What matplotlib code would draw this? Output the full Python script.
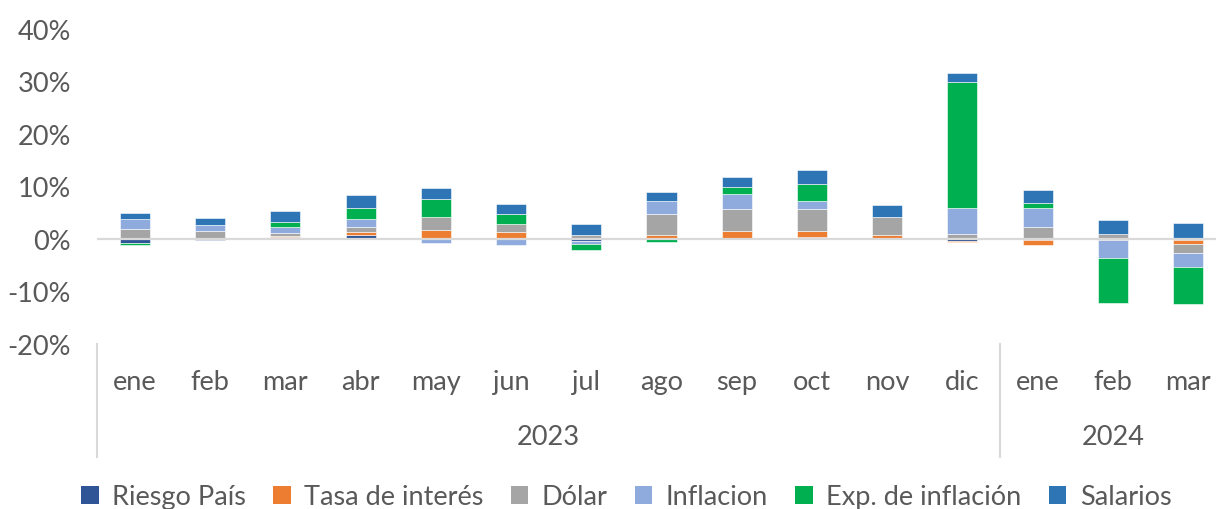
import numpy as np
import matplotlib.pyplot as plt
from matplotlib.patches import Patch
from matplotlib.lines import Line2D
import matplotlib.transforms as mtransforms
from matplotlib.ticker import PercentFormatter

# =============================================================================
# DATA (percent contribution per month)
# =============================================================================
months = ["ene", "feb", "mar", "abr", "may", "jun", "jul", "ago", "sep",
          "oct", "nov", "dic", "ene", "feb", "mar"]
years = ["2023", "2024"]
year_counts = [12, 3]

riesgo_pais = [-0.7, -0.2, 0.4, 0.8, 0.2, 0.0, -0.4, 0.0, 0.0, 0.3, 0.0, -0.3, -0.1, 0.0, -0.1]
tasa_interes = [0.0, 0.0, 0.2, 0.45, 1.6, 1.4, 0.0, 0.7, 1.5, 1.2, 0.8, -0.3, -1.0, -0.2, -0.9]
dolar = [2.0, 1.5, 0.5, 1.1, 2.4, 1.5, 0.8, 4.1, 4.2, 4.2, 3.4, 0.9, 2.2, 1.0, -1.6]
inflacion = [1.9, 1.2, 1.2, 1.5, -0.8, -1.2, -0.6, 2.4, 2.9, 1.6, 0.0, 5.0, 3.8, -3.4, -2.7]
exp_inflacion = [-0.4, 0.0, 1.0, 2.1, 3.5, 1.9, -1.0, -0.6, 1.3, 3.1, 0.0, 24.0, 0.8, -8.6, -7.1]
salarios = [1.0, 1.3, 2.1, 2.4, 2.0, 1.8, 2.0, 1.7, 2.0, 2.7, 2.2, 1.8, 2.5, 2.7, 3.1]

series_names = ["Riesgo País", "Tasa de interés", "Dólar", "Inflacion",
                "Exp. de inflación", "Salarios"]
series_values = [riesgo_pais, tasa_interes, dolar, inflacion, exp_inflacion, salarios]
colors = ["#2F5597", "#ED7D31", "#A5A5A5", "#8FAADC", "#00B050", "#2E75B6"]

TEXT = "#595959"
GRID = "#D9D9D9"
FS = 19.5

plt.rcParams["font.family"] = ["Lato", "DejaVu Sans"]
plt.rcParams["axes.unicode_minus"] = False

# =============================================================================
# PLOT
# =============================================================================
fig = plt.figure(figsize=(12.16, 5.10), dpi=100)
W, H = 1216, 510
ax = fig.add_axes([97.4 / W, 1 - 345 / H, 1128.2 / W, 315 / H])

x = np.arange(len(months))
pos_bottom = np.zeros(len(months))
neg_bottom = np.zeros(len(months))
for name, vals, col in zip(series_names, series_values, colors):
    v = np.array(vals) / 100.0
    bottom = np.where(v >= 0, pos_bottom, neg_bottom)
    ax.bar(x, v, 0.4, bottom=bottom, color=col, edgecolor="white",
           linewidth=0.4, zorder=2)
    pos_bottom += np.where(v > 0, v, 0)
    neg_bottom += np.where(v < 0, v, 0)

ax.axhline(0, color=GRID, lw=1.6, zorder=3)

ax.set_xlim(-0.5, len(months) - 0.5)
ax.set_ylim(-0.2, 0.4)
ax.set_yticks(np.arange(-0.2, 0.41, 0.1))
ax.yaxis.set_major_formatter(PercentFormatter(1.0, decimals=0))
ax.tick_params(axis="y", length=0, pad=19, labelsize=FS, labelcolor=TEXT)
ax.set_xticks([])
for s in ax.spines.values():
    s.set_visible(False)

# multi-level category labels
trans = mtransforms.blended_transform_factory(ax.transData, fig.transFigure)
for i, m in enumerate(months):
    ax.text(i, 1 - 383 / H, m, transform=trans, ha="center", va="center",
            fontsize=FS, color=TEXT)

start = 0
bounds = [-0.5]
for yr, n in zip(years, year_counts):
    ax.text(start + (n - 1) / 2, 1 - 438 / H, yr, transform=trans,
            ha="center", va="center", fontsize=FS, color=TEXT)
    start += n
    bounds.append(start - 0.5)

for b in bounds[:-1]:
    fig.add_artist(Line2D([b, b], [1 - 345 / H, 1 - 458 / H], transform=trans,
                          color=GRID, lw=1.5))

handles = [Patch(facecolor=c, edgecolor="none") for c in colors]
fig.legend(handles, series_names, loc="center", bbox_to_anchor=(0.515, 1 - 498 / H),
           ncol=6, frameon=False, fontsize=FS, labelcolor=TEXT,
           handlelength=0.65, handleheight=0.65, handletextpad=0.5,
           columnspacing=1.0)

fig.savefig("out.png", dpi=100)
